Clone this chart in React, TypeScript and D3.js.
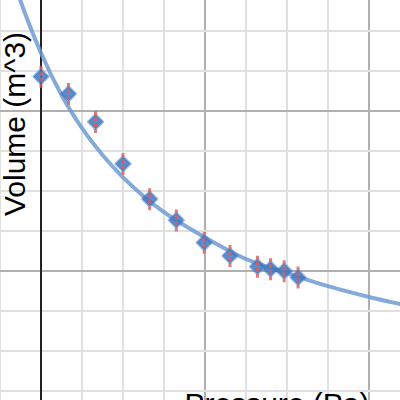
import React from "react";
import * as d3 from "d3";

// Measured data (pressure, volume) in grid units
const pressure = [0, 0.67, 1.33, 2.0, 2.65, 3.3, 3.98, 4.61, 5.28, 5.6, 5.93, 6.27];
const volume = [8.86, 8.43, 7.73, 6.68, 5.8, 5.27, 4.71, 4.38, 4.11, 4.05, 4.0, 3.84];
const volumeError = [0.28, 0.28, 0.28, 0.28, 0.28, 0.28, 0.28, 0.28, 0.28, 0.28, 0.28, 0.28];

// Fitted curve
const curvePressure = [-0.8, -0.6, -0.3, 0, 0.5, 1, 1.5, 2, 2.5, 3, 4, 5, 6, 7, 8, 9];
const curveVolume = [11.7, 11.05, 10.2, 9.45, 8.4, 7.57, 6.9, 6.34, 5.87, 5.47, 4.84, 4.3, 3.95, 3.62, 3.35, 3.12];

const xMinor = [-1, 0, 1, 2, 3, 4, 5, 6, 7, 8, 9];
const yMinor = [1, 2, 3, 4, 5, 6, 7, 8, 9, 10, 11];

const xLabel = "Pressure (Pa)";
const yLabel = "Volume (m^3)";

export default function App() {
  const W = 400, H = 400;
  const x = d3.scaleLinear().domain([-1, 8.756]).range([0, W]);
  const y = d3.scaleLinear().domain([0.775, 10.775]).range([H, 0]);

  const line = d3
    .line<number>()
    .x((_, i) => x(curvePressure[i]))
    .y((_, i) => y(curveVolume[i]))
    .curve(d3.curveMonotoneX);

  const diamond = d3.symbol().type(d3.symbolDiamond2).size(140)();

  return (
    <svg width={W} height={H} style={{ position: "fixed", left: 0, top: 0, background: "#fff" }}>
      <defs>
        <clipPath id="clip">
          <rect x={0} y={0} width={W} height={H} />
        </clipPath>
      </defs>
      <g>
        {xMinor.map((v) => (
          <line
            key={"xm" + v}
            x1={x(v)}
            x2={x(v)}
            y1={0}
            y2={H}
            stroke={v === 0 ? "#222" : v % 4 === 0 ? "#b0b0b0" : "#e0e0e0"}
            strokeWidth={2}
          />
        ))}
        {yMinor.map((v) => (
          <line
            key={"ym" + v}
            x1={0}
            x2={W}
            y1={y(v)}
            y2={y(v)}
            stroke={v % 4 === 0 ? "#b0b0b0" : "#e0e0e0"}
            strokeWidth={2}
          />
        ))}
        <line x1={x(0)} x2={x(0)} y1={0} y2={H} stroke="#222" strokeWidth={2} />
      </g>
      <g clipPath="url(#clip)">
        <path
          d={line(curvePressure) || ""}
          fill="none"
          stroke="#6f9bd4"
          strokeOpacity={0.85}
          strokeWidth={4}
        />
        {pressure.map((p, i) => (
          <path
            key={"pt" + i}
            d={diamond || ""}
            transform={`translate(${x(p)},${y(volume[i])})`}
            fill="#3f78c2"
            fillOpacity={0.85}
            stroke="#3f78c2"
            strokeOpacity={0.5}
            strokeWidth={2.5}
            strokeLinejoin="round"
          />
        ))}
        {pressure.map((p, i) => (
          <line
            key={"err" + i}
            x1={x(p)}
            x2={x(p)}
            y1={y(volume[i] - volumeError[i])}
            y2={y(volume[i] + volumeError[i])}
            stroke="#d95f5f"
            strokeOpacity={0.8}
            strokeWidth={3}
            strokeDasharray="4,2"
          />
        ))}
      </g>
      <text
        x={277}
        y={414}
        textAnchor="middle"
        fontFamily="'Liberation Sans', Arial, sans-serif"
        fontSize={30}
        fill="#000"
      >
        {xLabel}
      </text>
      <text
        transform={`translate(${25},${124}) rotate(-90)`}
        textAnchor="middle"
        fontFamily="'Liberation Sans', Arial, sans-serif"
        fontSize={30}
        fill="#000"
      >
        {yLabel}
      </text>
    </svg>
  );
}
